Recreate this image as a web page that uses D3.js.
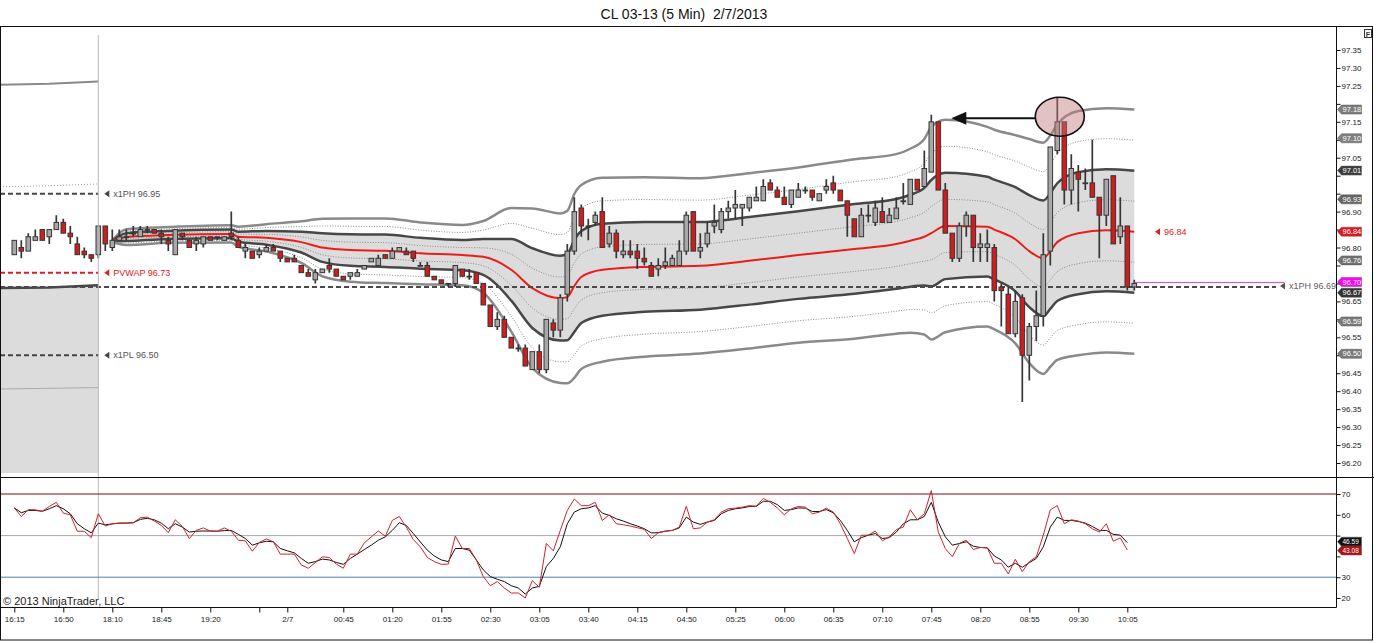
<!DOCTYPE html>
<html>
<head>
<meta charset="utf-8">
<script src="https://cdn.jsdelivr.net/npm/d3@7"></script>
<style>
  body { margin: 0; background: #fff; font-family: "Liberation Sans", Arial, sans-serif; }
</style>
</head>
<body>
<svg id="chart" width="1374" height="642"></svg>
<script>
// ---- candles (bar index 0..160, 5 min bars) ----
var barOpen = [96.78,96.80,96.79,96.82,96.85,96.83,96.85,96.87,96.84,96.81,
  96.79,96.78,96.78,96.86,96.80,96.82,96.83,96.84,96.83,96.85,
  96.85,96.84,96.82,96.78,96.84,96.82,96.81,96.81,96.83,96.83,
  96.82,96.84,96.82,96.79,96.79,96.78,96.79,96.80,96.79,96.77,
  96.77,96.75,96.73,96.71,96.73,96.75,96.74,96.72,96.72,96.72,
  96.74,96.76,96.75,96.78,96.77,96.79,96.79,96.79,96.75,96.75,
  96.72,96.71,96.70,96.70,96.74,96.72,96.73,96.70,96.64,96.58,
  96.60,96.55,96.52,96.52,96.46,96.51,96.46,96.59,96.57,96.67,
  96.79,96.91,96.86,96.87,96.90,96.81,96.84,96.78,96.79,96.79,
  96.77,96.75,96.74,96.75,96.75,96.75,96.79,96.90,96.79,96.81,
  96.86,96.85,96.90,96.91,96.91,96.91,96.93,96.93,96.98,96.96,
  96.94,96.92,96.94,96.96,96.96,96.93,96.96,96.98,96.96,96.93,
  96.88,96.83,96.89,96.87,96.90,96.87,96.88,96.93,96.92,96.99,
  96.97,97.01,97.15,96.96,96.84,96.77,96.86,96.89,96.80,96.80,
  96.80,96.69,96.67,96.56,96.66,96.50,96.58,96.61,96.79,97.07,
  97.15,96.96,97.01,96.98,96.98,96.94,96.89,97.00,96.83,96.86,96.69];
var barHigh = [96.82,96.82,96.84,96.85,96.85,96.85,96.89,96.88,96.86,96.83,
  96.80,96.78,96.86,96.86,96.85,96.85,96.85,96.86,96.86,96.86,
  96.85,96.85,96.83,96.85,96.84,96.82,96.83,96.83,96.83,96.83,
  96.83,96.90,96.83,96.81,96.79,96.80,96.81,96.81,96.79,96.77,
  96.78,96.75,96.74,96.74,96.74,96.77,96.74,96.72,96.73,96.74,
  96.75,96.77,96.78,96.78,96.80,96.80,96.80,96.79,96.76,96.76,
  96.72,96.71,96.70,96.75,96.74,96.74,96.73,96.70,96.64,96.62,
  96.61,96.55,96.53,96.53,96.51,96.53,96.60,96.60,96.67,96.81,
  96.94,96.92,96.88,96.90,96.94,96.86,96.85,96.82,96.82,96.81,
  96.80,96.76,96.77,96.80,96.78,96.82,96.90,96.90,96.84,96.87,
  96.92,96.91,96.93,96.96,96.92,96.94,96.97,96.99,96.99,96.97,
  96.97,96.96,96.98,96.97,96.96,96.95,96.99,97.00,96.96,96.93,
  96.88,96.91,96.92,96.93,96.94,96.91,96.94,96.98,96.99,96.99,
  97.07,97.17,97.15,96.98,96.84,96.87,96.90,96.89,96.84,96.85,
  96.81,96.70,96.69,96.68,96.67,96.59,96.68,96.84,97.08,97.22,
  97.15,97.06,97.03,97.02,97.10,96.94,96.99,97.00,96.94,96.86,96.71];
var barLow = [96.78,96.77,96.79,96.82,96.82,96.81,96.85,96.84,96.81,96.78,
  96.77,96.76,96.77,96.79,96.79,96.82,96.82,96.83,96.83,96.84,
  96.84,96.81,96.79,96.78,96.82,96.80,96.79,96.80,96.82,96.82,
  96.82,96.82,96.80,96.77,96.77,96.77,96.79,96.79,96.76,96.76,
  96.76,96.73,96.72,96.70,96.73,96.73,96.72,96.71,96.71,96.72,
  96.74,96.76,96.75,96.77,96.77,96.79,96.78,96.76,96.75,96.72,
  96.71,96.70,96.69,96.69,96.72,96.71,96.70,96.64,96.58,96.57,
  96.55,96.52,96.51,96.47,96.46,96.45,96.45,96.55,96.55,96.65,
  96.78,96.83,96.82,96.86,96.80,96.80,96.77,96.77,96.77,96.74,
  96.75,96.72,96.72,96.74,96.75,96.75,96.78,96.79,96.77,96.80,
  96.84,96.84,96.88,96.88,96.86,96.90,96.93,96.93,96.96,96.94,
  96.92,96.91,96.94,96.95,96.93,96.93,96.95,96.95,96.93,96.83,
  96.83,96.83,96.87,96.86,96.87,96.87,96.88,96.92,96.92,96.96,
  96.97,97.01,96.96,96.84,96.76,96.76,96.83,96.76,96.76,96.76,
  96.65,96.58,96.56,96.55,96.37,96.43,96.54,96.58,96.75,97.06,
  96.92,96.92,96.90,96.96,96.94,96.77,96.86,96.81,96.81,96.68,96.68];
var barClose = [96.82,96.79,96.83,96.83,96.82,96.85,96.87,96.84,96.83,96.78,
  96.78,96.77,96.86,96.81,96.82,96.83,96.83,96.84,96.85,96.85,
  96.84,96.83,96.81,96.85,96.83,96.80,96.82,96.83,96.82,96.83,
  96.83,96.83,96.80,96.80,96.77,96.79,96.80,96.79,96.77,96.76,
  96.76,96.73,96.72,96.73,96.74,96.74,96.72,96.71,96.73,96.73,
  96.75,96.77,96.77,96.77,96.79,96.80,96.78,96.77,96.75,96.72,
  96.71,96.70,96.70,96.75,96.72,96.72,96.70,96.64,96.58,96.60,
  96.55,96.52,96.52,96.47,96.51,96.46,96.60,96.57,96.66,96.79,
  96.90,96.86,96.86,96.89,96.80,96.84,96.79,96.79,96.78,96.77,
  96.76,96.72,96.75,96.76,96.77,96.79,96.89,96.79,96.80,96.84,
  96.87,96.90,96.91,96.92,96.92,96.94,96.94,96.97,96.96,96.94,
  96.92,96.96,96.96,96.96,96.94,96.95,96.97,96.96,96.93,96.89,
  96.83,96.89,96.89,96.91,96.87,96.89,96.91,96.93,96.99,96.96,
  97.02,97.15,96.96,96.84,96.77,96.86,96.89,96.80,96.81,96.81,
  96.68,96.68,96.56,96.65,96.50,96.58,96.61,96.78,97.08,97.15,
  96.96,97.02,96.99,96.98,96.94,96.89,96.99,96.81,96.86,96.69,96.70];

// ---- time axis ----
var timeIdx = [0, 7, 14, 21, 28, 35, 39, 47, 54, 61, 68, 75, 82, 89, 96, 103, 110, 117, 124, 131, 138, 145, 152, 159];
var timeLabels = ["16:15","16:50","18:10","18:45","19:20","","2/7","00:45","01:20","01:55","02:30","03:05",
  "03:40","04:15","04:50","05:25","06:00","06:35","07:10","07:45","08:20","08:55","09:30","10:05"];
var sessionStartIdx = 12;

// ---- price axis ----
var priceTicks = [96.20,96.25,96.30,96.35,96.40,96.45,96.50,96.55,96.60,96.65,96.70,96.75,
  96.80,96.85,96.90,96.95,97.00,97.05,97.10,97.15,97.20,97.25,97.30,97.35];

// ---- session VWAP and its standard deviation ----
var bandIdx = [14,16,22,31,32,36,41,44,48,53,58,64,67,71,74,78,79,80,81,84,
  90,98,105,112,120,126,128,130,131,133,139,140,143,145,147,148,149,152,156,160];
var vwapVals = [96.818,96.829,96.835,96.838,96.830,96.827,96.815,96.800,96.793,96.791,
  96.784,96.779,96.774,96.738,96.687,96.659,96.662,96.693,96.718,96.738,
  96.746,96.749,96.763,96.779,96.796,96.810,96.819,96.830,96.840,96.860,
  96.858,96.850,96.823,96.790,96.770,96.790,96.815,96.840,96.848,96.844];
var sdVals = [0.001,0.011,0.011,0.012,0.014,0.019,0.029,0.040,0.044,0.045,
  0.043,0.042,0.050,0.086,0.111,0.118,0.120,0.128,0.128,0.128,
  0.125,0.122,0.122,0.122,0.125,0.125,0.128,0.136,0.148,0.148,
  0.139,0.139,0.145,0.156,0.161,0.161,0.164,0.170,0.170,0.170];
var bandMults = [2, 1.5, 1, 0.5, 0, -0.5, -1, -1.5, -2];

// ---- previous session bands (left of the session line) ----
var prevIdx = [-2.05, 5, 12];
var prevUpper2 = [97.253, 97.256, 97.262];
var prevUpper15 = [96.969, 96.972, 96.977];
var prevLower1 = [96.687, 96.689, 96.695];
var prevLower15 = [96.406, 96.408, 96.410];

// ---- prior day levels ----
var levelNames = ["x1PH", "PVWAP", "x1PL"];
var levelValues = [96.95, 96.73, 96.50];
var levelColors = ["#444", "#e02020", "#444"];
var pivotName = "x1PH", pivotValue = 96.69;

// ---- right axis markers ----
var badgeValues = [97.18, 97.10, 97.01, 96.93, 96.84, 96.76, 96.70, 96.67, 96.59, 96.50];
var badgeColors = ["#7d7d7d","#808080","#3d3d3d","#666","#e3151c","#727272","#ff00ff","#333","#7a7a7a","#7a7a7a"];

// ---- stochastics panel (bars 0..159) ----
var stochFast = [63.3,59.2,62.5,62.4,61.7,64.0,66.0,60.8,60.0,52.1,
  52.1,49.0,60.5,54.6,55.7,56.0,56.0,56.2,58.6,58.9,
  57.0,54.9,51.4,57.6,54.4,48.6,52.5,53.7,52.2,52.1,
  53.7,52.1,47.8,47.5,42.5,46.7,48.4,47.0,41.1,41.1,
  41.1,35.9,34.3,37.0,39.8,39.5,36.3,34.3,41.1,41.1,
  46.5,49.4,52.2,49.7,57.3,59.2,54.1,48.1,44.6,39.5,
  37.5,36.2,36.3,49.8,43.8,43.8,38.3,30.3,25.9,27.9,
  24.8,22.4,22.4,20.0,28.3,25.2,46.2,42.7,52.5,62.1,
  67.6,64.4,64.4,66.0,57.3,60.0,55.7,55.2,54.6,53.8,
  53.0,48.6,51.4,52.2,52.5,54.1,64.1,53.3,53.7,56.5,
  57.6,61.3,62.9,63.2,63.7,64.4,64.1,67.9,66.0,63.3,
  60.0,62.9,64.0,63.7,60.5,61.3,63.2,61.3,55.7,48.6,
  41.4,50.2,50.2,52.2,47.5,49.4,52.9,54.1,62.4,57.6,
  60.5,71.6,51.7,43.8,39.8,46.2,47.8,43.3,44.3,44.1,
  36.7,36.7,31.6,38.6,32.7,37.5,39.8,50.2,62.4,64.4,
  55.7,57.6,57.0,55.7,53.3,51.7,55.7,47.3,48.9,43.08];
var stochSlow = [63.3,61.0,62.1,62.1,61.7,62.9,64.4,62.9,60.5,55.7,
  53.3,51.3,56.0,55.2,55.6,56.0,56.0,56.2,57.8,58.3,
  57.6,56.0,53.3,55.7,54.1,51.7,52.1,52.2,52.2,52.1,
  52.4,52.5,50.6,48.6,45.4,46.5,47.3,47.0,43.8,42.7,
  41.7,39.0,36.7,37.5,38.7,38.3,37.1,36.2,39.0,41.1,
  43.3,45.4,47.8,49.4,52.5,56.2,54.9,51.0,47.0,43.0,
  40.2,38.3,37.5,43.8,43.8,43.0,38.3,33.5,30.3,29.0,
  27.9,25.9,24.8,21.9,24.8,25.6,35.1,39.0,44.6,55.7,
  61.3,62.9,63.3,64.4,60.8,59.7,58.1,57.0,55.7,54.6,
  53.3,51.3,51.4,52.1,52.5,53.7,58.9,56.5,55.4,56.5,
  57.3,60.5,62.1,62.9,63.3,64.0,64.1,66.5,66.5,64.9,
  62.1,62.5,63.3,63.2,61.6,61.6,62.5,61.0,57.3,52.5,
  47.0,49.0,50.2,51.0,48.6,49.0,51.7,55.7,57.6,57.6,
  59.2,66.0,56.5,49.4,45.4,46.2,47.0,44.9,44.3,44.1,
  40.2,38.3,34.8,36.7,34.8,37.0,39.0,44.6,54.1,58.9,
  57.3,57.3,56.8,56.0,54.4,52.5,52.5,50.6,50.2,46.59];
var stochTicks = [20, 30, 40, 50, 60, 70];
var stochLevels = [70, 50, 30];
var stochLevelColors = ["#7a0a0a", "#a8a8a8", "#4a82a8"];

// ---- layout ----
var svg = d3.select("#chart");
var FONT = "Liberation Sans, Arial, sans-serif";
var axisX = 1336.5, priceTop = 27, priceBottom = 477.5, indBottom = 607.5;

var x = d3.scaleLinear().domain([0, 160]).range([14.3, 1134.3]);
var y = d3.scaleLinear().domain([96.20, 97.35]).range([463, 50]);
var yi = d3.scaleLinear().domain([20, 70]).range([598, 494]);

svg.append("text").attr("x", 684).attr("y", 19).attr("text-anchor", "middle")
  .attr("font-family", FONT).attr("font-size", 14).attr("fill", "#111")
  .text("CL 03-13 (5 Min)\u00a0 2/7/2013");

svg.append("defs").append("clipPath").attr("id", "pclip")
  .append("rect").attr("x", 0).attr("y", priceTop).attr("width", axisX).attr("height", priceBottom - priceTop);

var pg = svg.append("g").attr("clip-path", "url(#pclip)");

// previous session bands
var prevLine = function(vals) {
  return d3.line().x(function(d, j) { return x(prevIdx[j]); }).y(function(d) { return y(d); })(vals);
};
pg.append("path")
  .attr("d", d3.area().x(function(d, j) { return x(prevIdx[j]); })
    .y0(473).y1(function(d) { return y(d); })(prevLower1))
  .attr("fill", "#dcdcdc");
pg.append("path").attr("d", prevLine(prevUpper2)).attr("fill", "none").attr("stroke", "#8a8a8a").attr("stroke-width", 2);
pg.append("path").attr("d", prevLine(prevUpper15)).attr("fill", "none").attr("stroke", "#999").attr("stroke-width", 1).attr("stroke-dasharray", "1,2");
pg.append("path").attr("d", prevLine(prevLower1)).attr("fill", "none").attr("stroke", "#474747").attr("stroke-width", 2.5);
pg.append("path").attr("d", prevLine(prevLower15)).attr("fill", "none").attr("stroke", "#aaa").attr("stroke-width", 1);

// current session VWAP bands
var bandPts = function(k) {
  return bandIdx.map(function(b, j) { return [x(b), y(vwapVals[j] + k * sdVals[j])]; });
};
pg.append("path")
  .attr("d", d3.area().curve(d3.curveMonotoneX)
    .x(function(d, j) { return x(bandIdx[j]); })
    .y0(function(d, j) { return y(vwapVals[j] - sdVals[j]); })
    .y1(function(d, j) { return y(vwapVals[j] + sdVals[j]); })(bandIdx))
  .attr("fill", "#dcdcdc");

var bandStyle = function(k) {
  var a = Math.abs(k);
  if (a === 2) return { c: "#8a8a8a", w: 2.5, dash: null };
  if (a === 1) return { c: "#474747", w: 2.5, dash: null };
  if (a === 0) return { c: "#ee1b1b", w: 2, dash: null };
  return { c: "#8c8c8c", w: 1, dash: "1,1.6" };
};
var bandLine = d3.line().curve(d3.curveMonotoneX);
bandMults.forEach(function(k) {
  var s = bandStyle(k);
  pg.append("path").attr("d", bandLine(bandPts(k))).attr("fill", "none")
    .attr("stroke", s.c).attr("stroke-width", s.w).attr("stroke-dasharray", s.dash);
});

// session line
svg.append("line").attr("x1", x(sessionStartIdx)).attr("x2", x(sessionStartIdx))
  .attr("y1", 35).attr("y2", 600).attr("stroke", "#b8b8b8").attr("stroke-width", 1);

// prior day levels
var leftArrowLabel = function(px, py, txt, color, textColor) {
  svg.append("path").attr("d", "M" + px + "," + py + "l5,-3.5v7z").attr("fill", color);
  svg.append("text").attr("x", px + 9).attr("y", py + 3.2).attr("font-family", FONT)
    .attr("font-size", 9).attr("fill", textColor || color).text(txt);
};
levelValues.forEach(function(v, j) {
  pg.append("line").attr("x1", 0).attr("x2", x(sessionStartIdx)).attr("y1", y(v)).attr("y2", y(v))
    .attr("stroke", levelColors[j]).attr("stroke-width", 2).attr("stroke-dasharray", "5,3");
  leftArrowLabel(x(sessionStartIdx) + 6, y(v), levelNames[j] + " " + v.toFixed(2),
    levelColors[j], j === 1 ? "#e02020" : "#555");
});
pg.append("line").attr("x1", 0).attr("x2", 1276).attr("y1", y(pivotValue)).attr("y2", y(pivotValue))
  .attr("stroke", "#4a4a4a").attr("stroke-width", 2).attr("stroke-dasharray", "5,3");
svg.append("line").attr("x1", x(160)).attr("x2", 1284).attr("y1", y(barClose[160]) - 1).attr("y2", y(barClose[160]) - 1)
  .attr("stroke", "#e040e0").attr("stroke-width", 1);
leftArrowLabel(1280, y(pivotValue) - 1, pivotName + " " + pivotValue.toFixed(2), "#555", "#6a5a6a");
leftArrowLabel(1155, y(vwapVals[vwapVals.length - 1]), vwapVals[vwapVals.length - 1].toFixed(2), "#e02020");

// candles
var bars = barOpen.map(function(o, i) {
  return { i: i, o: o, h: barHigh[i], l: barLow[i], c: barClose[i] };
});
var cg = pg.append("g");
cg.selectAll("line.wick").data(bars).enter().append("line").attr("class", "wick")
  .attr("x1", function(d) { return x(d.i); }).attr("x2", function(d) { return x(d.i); })
  .attr("y1", function(d) { return y(d.h); }).attr("y2", function(d) { return y(d.l); })
  .attr("stroke", "#363636").attr("stroke-width", 1.7);
cg.selectAll("rect.body").data(bars).enter().append("rect").attr("class", "body")
  .attr("x", function(d) { return x(d.i) - 2.3; }).attr("width", 4.6)
  .attr("y", function(d) { return y(Math.max(d.o, d.c)); })
  .attr("height", function(d) { return Math.max(0.8, Math.abs(y(d.o) - y(d.c))); })
  .attr("fill", function(d) { return d.c >= d.o ? "#a8a8a8" : "#d01c1c"; })
  .attr("stroke", "#363636").attr("stroke-width", 1);

// annotation: circle on the high and arrow back to the earlier high
svg.append("ellipse").attr("cx", x(149) + 2.5).attr("cy", y(97.22) + 20)
  .attr("rx", 24.5).attr("ry", 19.5)
  .attr("fill", "rgba(190,120,120,0.45)").attr("stroke", "#111").attr("stroke-width", 1.6);
var arrowY = y(97.22) + 21.5;
svg.append("line").attr("x1", x(149) - 22).attr("x2", x(131) + 34).attr("y1", arrowY).attr("y2", arrowY)
  .attr("stroke", "#111").attr("stroke-width", 2);
svg.append("path").attr("d", "M" + (x(131) + 20) + "," + arrowY + "l15,-6.5v13z").attr("fill", "#111");

// stochastics panel
stochLevels.forEach(function(v, j) {
  svg.append("line").attr("x1", 0).attr("x2", axisX).attr("y1", yi(v)).attr("y2", yi(v))
    .attr("stroke", stochLevelColors[j]).attr("stroke-width", 1);
});
var stochLine = d3.line().x(function(d, i) { return x(i); }).y(function(d) { return yi(d); });
svg.append("path").attr("d", stochLine(stochSlow)).attr("fill", "none").attr("stroke", "#111").attr("stroke-width", 1);
svg.append("path").attr("d", stochLine(stochFast)).attr("fill", "none").attr("stroke", "#d2222c").attr("stroke-width", 1);

svg.append("text").attr("x", 3).attr("y", 605).attr("font-family", FONT).attr("font-size", 11)
  .attr("fill", "#222").text("\u00a9 2013 NinjaTrader, LLC");

// frames
svg.append("rect").attr("x", 0.5).attr("y", 26.5).attr("width", 1372).attr("height", 613.5)
  .attr("fill", "none").attr("stroke", "#111");
svg.append("line").attr("x1", 0).attr("x2", 1374).attr("y1", priceBottom).attr("y2", priceBottom).attr("stroke", "#111");
svg.append("line").attr("x1", 0).attr("x2", axisX).attr("y1", indBottom).attr("y2", indBottom).attr("stroke", "#111");
svg.append("line").attr("x1", axisX).attr("x2", axisX).attr("y1", priceTop).attr("y2", indBottom).attr("stroke", "#111");
svg.append("rect").attr("x", 1364.5).attr("y", 29.5).attr("width", 7).attr("height", 8).attr("fill", "#fff").attr("stroke", "#333");
svg.append("text").attr("x", 1368).attr("y", 36.5).attr("text-anchor", "middle").attr("font-family", FONT)
  .attr("font-size", 7).attr("font-weight", "bold").attr("fill", "#333").text("F");

// axes; labels sitting under a value marker are left out, as the marker covers them
var coveredByBadge = function(v) {
  return badgeValues.some(function(b) { return Math.abs(y(b) - 1.5 - y(v)) < 7; });
};
var styleAxis = function(g) {
  g.select(".domain").remove();
  g.selectAll("text").attr("font-family", FONT).attr("font-size", 8).attr("fill", "#222");
  g.selectAll("line").attr("stroke", "#111");
};
svg.append("g").attr("transform", "translate(" + axisX + ",0)")
  .call(d3.axisRight(y).tickValues(priceTicks)
    .tickFormat(function(d) { return coveredByBadge(d) ? "" : d3.format(".2f")(d); })
    .tickSize(4).tickPadding(1))
  .call(styleAxis);
svg.append("g").attr("transform", "translate(" + axisX + ",0)")
  .call(d3.axisRight(yi).tickValues(stochTicks)
    .tickFormat(function(d) { return d === 40 || d === 50 ? "" : d3.format("d")(d); })
    .tickSize(4).tickPadding(1))
  .call(styleAxis);
svg.append("g").attr("transform", "translate(0," + indBottom + ")")
  .call(d3.axisBottom(x).tickValues(timeIdx).tickFormat(function(d, i) { return timeLabels[i]; })
    .tickSize(5).tickPadding(4))
  .call(styleAxis);

// value markers on the right axis
var badge = function(yc, txt, color, fs) {
  svg.append("path")
    .attr("d", "M" + (axisX + 1) + "," + yc + "l4,-4.5h20v9h-20z")
    .attr("fill", color).attr("stroke", "#555").attr("stroke-width", 0.5);
  svg.append("text").attr("x", axisX + 6).attr("y", yc + 2.6).attr("font-family", FONT)
    .attr("font-size", fs).attr("fill", "#fff").text(txt);
};
badgeValues.forEach(function(v, j) { badge(y(v) - 1.5, v.toFixed(2), badgeColors[j], 7.5); });
badge(yi(stochSlow[stochSlow.length - 1]) - 1, stochSlow[stochSlow.length - 1].toFixed(2), "#111", 6.5);
badge(yi(stochFast[stochFast.length - 1]) + 0.5, stochFast[stochFast.length - 1].toFixed(2), "#b01010", 6.5);
</script>
</body>
</html>
